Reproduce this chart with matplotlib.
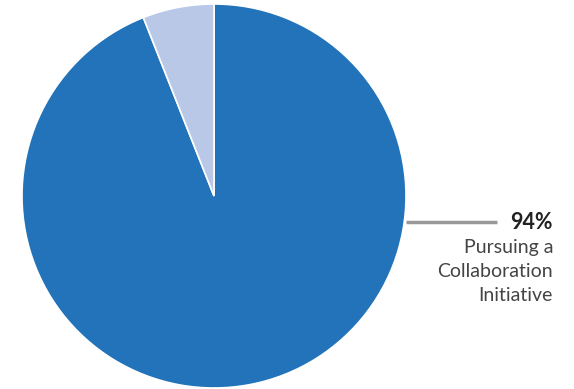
import matplotlib
matplotlib.use("Agg")
import matplotlib.pyplot as plt

# share of organisations pursuing a collaboration initiative
labels = ["Pursuing a\nCollaboration\nInitiative", "Not pursuing"]
shares = [94, 6]
colors = ["#2273b9", "#b9c8e6"]

W, H = 574, 389
fig = plt.figure(figsize=(W / 100, H / 100), dpi=100)
ax = fig.add_axes([0, 0, 1, 1])

cx, cy, r = 214, 193, 192
ax.pie(shares, colors=colors, startangle=90, counterclock=False,
       center=(cx, cy), radius=r, frame=True,
       wedgeprops=dict(edgecolor="white", linewidth=1.2))
ax.set_xlim(0, W)
ax.set_ylim(0, H)
ax.set_aspect("equal")
ax.axis("off")

# leader line and callout for the big slice
ly = 167
ax.plot([cx + r, 497], [ly, ly], color="#999999", lw=2.5, solid_capstyle="butt")
ax.text(553, ly, f"{shares[0]}%", ha="right", va="center",
        fontsize=15.5, fontweight="bold", family="Lato", color="#222222")
ax.text(553, ly - 17, labels[0], ha="right", va="top", fontsize=14,
        family="Lato", color="#444444", linespacing=1.5)

fig.savefig("out.png", dpi=100)
